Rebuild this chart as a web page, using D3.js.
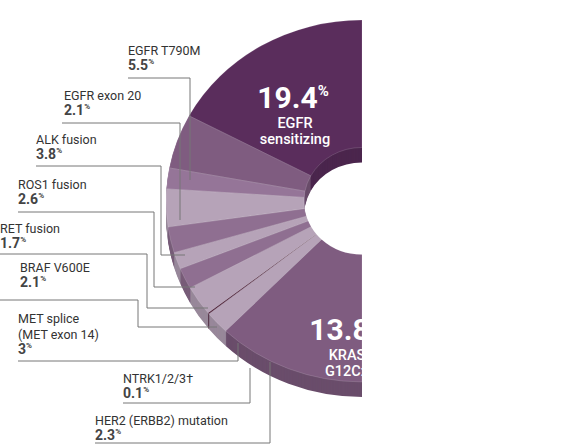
<!DOCTYPE html>
<html><head><meta charset="utf-8">
<script src="https://cdn.jsdelivr.net/npm/d3@7"></script>
<style>body{margin:0;background:#fff}text{font-family:Roboto,"DejaVu Sans",sans-serif}</style>
</head><body><svg id="c" width="578" height="446"></svg>
<script>
const categories=["EGFR sensitizing","EGFR T790M","EGFR exon 20","ALK fusion","ROS1 fusion","RET fusion","BRAF V600E","MET splice","NTRK1/2/3","HER2 (ERBB2) mutation","KRAS G12C"];
const values=[19.4,5.5,2.1,3.8,2.6,1.7,2.1,3,0.1,2.3,13.8];
const valueLabels=["19.4","5.5","2.1","3.8","2.6","1.7","2.1","3","0.1","2.3","13.8"];
const colors=["#5a2d5c","#7f5c80","#957598","#b6a3b8","#8f6f91","#b6a3b8","#8f6f91","#b6a3b8","#3d0b26","#b6a3b8","#7f5c80"];
// annotation layout: [index, label lines, x, firstBaseline, leader polyline]
const notes=[
 [1,["EGFR T790M"],128,55,[[128,78],[190,78],[190,180]]],
 [2,["EGFR exon 20"],64,100,[[62,123],[180,123],[180,220]]],
 [3,["ALK fusion"],36,144,[[36,166],[161,166],[161,255],[185,255]]],
 [4,["ROS1 fusion"],18,189,[[18,212],[154,212],[154,287],[195,287]]],
 [5,["RET fusion"],0,233,[[0,254],[147,254],[147,308],[208,308]]],
 [6,["BRAF V600E"],20,272,[[0,300],[138,300],[138,327],[217,327]]],
 [7,["MET splice","(MET exon 14)"],18,323,[[18,361],[238,361],[238,343]]],
 [8,["NTRK1/2/3\u2020"],123,383,[[123,403],[250,403],[250,368]]],
 [9,["HER2 (ERBB2) mutation"],95,425,[[95,443],[270,443],[270,362]]]
];
const svg=d3.select("#c");
const cx=362,cy=201,R=196,r=58,sy=0.923,depth=15;
const pie=d3.pie().sort(null).startAngle(0).endAngle(-Math.PI);
const arcs=pie(values);
const arc=d3.arc().innerRadius(r).outerRadius(R);
for(let k=depth;k>0;k-=1){
 svg.append("g").attr("transform",`translate(${cx},${cy+k}) scale(1,${sy})`)
  .selectAll("path").data(arcs).join("path").attr("d",arc)
  .attr("fill",(d,i)=>d3.color(colors[i]).darker(0.5));
}
const face=svg.append("g").attr("transform",`translate(${cx},${cy}) scale(1,${sy})`);
face.selectAll("path").data(arcs).join("path").attr("d",arc)
 .attr("fill",(d,i)=>colors[i]).attr("stroke","rgba(255,255,255,0.25)").attr("stroke-width",0.6);
const line=d3.line();
notes.forEach(n=>{
 svg.append("path").attr("d",line(n[4])).attr("fill","none").attr("stroke","#777").attr("stroke-width",1);
 const g=svg.append("g");
 n[1].forEach((t,j)=>g.append("text").attr("x",n[2]).attr("y",n[3]+j*16).attr("font-size",12.5).attr("fill","#333").text(t));
 const t=g.append("text").attr("x",n[2]).attr("y",n[3]+n[1].length*16-1).attr("font-size",14).attr("font-weight","bold").attr("fill","#444");
 t.append("tspan").text(valueLabels[n[0]]);
 t.append("tspan").attr("font-size",8).attr("dy",-6).text("%");
});
function inLabel(i,x,y,lines){
 const t=svg.append("text").attr("x",x).attr("y",y).attr("text-anchor","middle").attr("fill","#fff").attr("font-weight","bold").attr("font-size",30);
 t.append("tspan").text(valueLabels[i]);
 t.append("tspan").attr("font-size",15).attr("dy",-12).text("%");
 lines.forEach((l,j)=>svg.append("text").attr("x",x+2).attr("y",y+20+j*16).attr("text-anchor","middle").attr("fill","#fff").attr("font-size",14.5).attr("font-weight",500).text(l));
}
inLabel(0,293,108,["EGFR","sensitizing"]);
inLabel(10,345,340,["KRAS","G12C\u2021"]);
</script></body></html>
